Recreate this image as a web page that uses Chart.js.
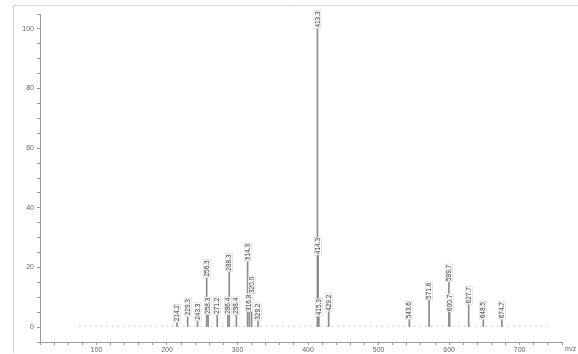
<!DOCTYPE html>
<html>
<head>
<meta charset="utf-8">
<script src="https://cdn.jsdelivr.net/npm/chart.js@4"></script>
<style>
  html, body { margin: 0; padding: 0; background: #fff; }
  #wrap { width: 578px; height: 354px; position: relative; }
</style>
</head>
<body>
<div id="wrap"><canvas id="msChart" width="578" height="354"></canvas></div>
<script>
// peak list (m/z, relative intensity %)
const peakMz = [214.2, 229.3, 243.3, 256.3, 258.3, 271.2, 286.4, 288.3, 298.4,
                314.3, 316.8, 320.0, 329.2, 413.3, 414.3, 415.3, 429.2,
                543.6, 571.6, 599.7, 600.7, 627.7, 648.5, 674.7];
const peakInt = [1.5, 3.5, 2, 16.5, 4, 4, 4, 18.5, 4,
                 22, 5, 11, 2, 100, 24, 3.5, 5,
                 2.5, 9, 15, 5, 7.5, 2.5, 2.5];
const peakLabels = peakMz.map(v => v.toFixed(1));

// faint noise baseline
const baseMz = [75, 745];
const baseInt = [0.3, 0.3];

const yTickLabels = [0, 20, 40, 60, 80, 100];
const xTickLabels = [100, 200, 300, 400, 500, 600, 700];

const tickFont = { family: 'Liberation Sans, Arial, sans-serif', size: 7 };

// vertical peak labels drawn above every bar
const peakLabelPlugin = {
    id: 'peakLabels',
    afterDatasetsDraw(chart) {
        const ctx = chart.ctx;
        const meta = chart.getDatasetMeta(0);
        ctx.save();
        ctx.font = '6.5px "Liberation Sans", Arial, sans-serif';
        meta.data.forEach((bar, i) => {
            const txt = peakLabels[i];
            const w = ctx.measureText(txt).width;
            ctx.save();
            ctx.translate(bar.x, bar.y - 1);
            ctx.rotate(-Math.PI / 2);
            ctx.fillStyle = '#fff';
            ctx.fillRect(-0.5, -3.5, w + 1.5, 7);
            ctx.strokeStyle = '#c8c8c8';
            ctx.lineWidth = 0.5;
            ctx.strokeRect(-0.5, -3.5, w + 1.5, 7);
            ctx.fillStyle = '#333';
            ctx.textAlign = 'left';
            ctx.textBaseline = 'middle';
            ctx.fillText(txt, 0.3, 0.3);
            ctx.restore();
        });
        ctx.restore();
    }
};

// page frame + axis title
const framePlugin = {
    id: 'frame',
    afterDraw(chart) {
        const ctx = chart.ctx;
        ctx.save();
        ctx.strokeStyle = '#d4d4d4';
        ctx.lineWidth = 1;
        ctx.beginPath();
        ctx.moveTo(13.5, 353);
        ctx.lineTo(13.5, 5.5);
        ctx.lineTo(578, 5.5);
        ctx.stroke();
        ctx.fillStyle = '#666';
        ctx.font = '7px "Liberation Sans", Arial, sans-serif';
        ctx.textAlign = 'left';
        ctx.textBaseline = 'middle';
        ctx.fillText('m/z', 565, 349);
        ctx.restore();
    }
};

const ctx = document.getElementById('msChart').getContext('2d');
new Chart(ctx, {
    type: 'bar',
    data: {
        datasets: [{
            label: 'peaks',
            data: peakMz.map((m, i) => ({ x: m, y: peakInt[i] })),
            backgroundColor: '#8c8c8c',
            borderWidth: 0,
            barThickness: 1
        }, {
            type: 'line',
            label: 'baseline',
            data: baseMz.map((m, i) => ({ x: m, y: baseInt[i] })),
            borderColor: '#c4c4c4',
            borderWidth: 1,
            borderDash: [1.5, 4],
            pointRadius: 0
        }]
    },
    options: {
        responsive: false,
        animation: false,
        layout: { padding: { left: 0, right: 16, top: 14, bottom: 0 } },
        plugins: {
            legend: { display: false },
            tooltip: { enabled: false }
        },
        scales: {
            x: {
                type: 'linear',
                offset: false,
                min: 20,
                max: 760,
                afterFit(scale) { scale.height = 12; },
                ticks: {
                    stepSize: 20,
                    autoSkip: false,
                    maxRotation: 0,
                    padding: 1,
                    color: '#666',
                    font: tickFont,
                    callback: v => xTickLabels.includes(v) ? v : ''
                },
                grid: { offset: false, drawOnChartArea: false, drawTicks: true, tickLength: 3, color: '#999' },
                border: { color: '#999', width: 1 }
            },
            y: {
                min: -5,
                max: 105,
                afterFit(scale) { scale.width = 40; },
                ticks: {
                    stepSize: 5,
                    autoSkip: false,
                    padding: 3,
                    color: '#666',
                    font: tickFont,
                    callback: v => yTickLabels.includes(v) ? v : ''
                },
                grid: { drawOnChartArea: false, drawTicks: true, tickLength: 3, color: '#999' },
                border: { color: '#999', width: 1 }
            }
        }
    },
    plugins: [peakLabelPlugin, framePlugin]
});
</script>
</body>
</html>
